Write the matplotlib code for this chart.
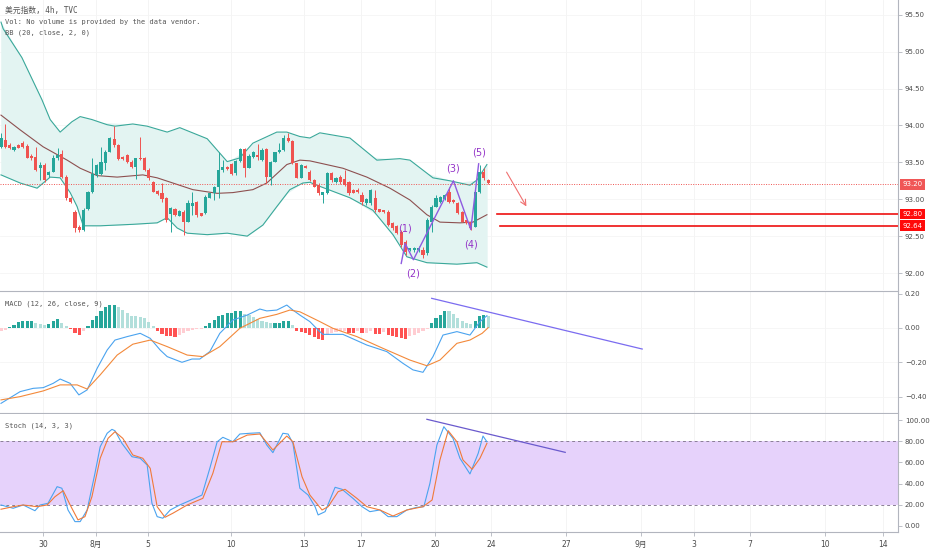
import numpy as np
import matplotlib
matplotlib.use("Agg")
import matplotlib.pyplot as plt
from matplotlib.ticker import FuncFormatter

plt.rcParams['font.family'] = ['DejaVu Sans', 'Noto Sans CJK SC']

# 4h candles, x = bar index
opens = [93.713, 93.804, 93.736, 93.668, 93.736, 93.759, 93.727, 93.587, 93.578, 93.419,
         93.465, 93.329, 93.374, 93.555, 93.609, 93.306, 93.021, 92.831, 92.628, 92.583,
         92.868, 93.094, 93.329, 93.338, 93.487, 93.645, 93.817, 93.736, 93.578, 93.600,
         93.510, 93.442, 93.564, 93.564, 93.397, 93.238, 93.112, 93.080, 93.012, 92.795,
         92.863, 92.777, 92.831, 92.696, 92.913, 92.958, 92.809, 92.809, 93.021, 93.080,
         93.171, 93.397, 93.442, 93.474, 93.351, 93.519, 93.682, 93.428, 93.578, 93.600,
         93.532, 93.677, 93.306, 93.510, 93.636, 93.668, 93.835, 93.790, 93.487, 93.293,
         93.456, 93.374, 93.261, 93.193, 93.058, 93.080, 93.352, 93.239, 93.306, 93.270,
         93.239, 93.126, 93.126, 93.058, 92.945, 92.945, 93.013, 92.863, 92.854, 92.832,
         92.673, 92.637, 92.560, 92.425, 92.312, 92.312, 92.312, 92.312, 92.266, 92.696,
         92.899, 92.967, 92.999, 93.103, 92.990, 92.945, 92.832, 92.718, 92.696, 92.628,
         93.103, 93.374, 93.261]
highs = [93.894, 94.016, 93.759, 93.727, 93.745, 93.790, 93.745, 93.609, 93.713, 93.510,
         93.487, 93.383, 93.600, 93.691, 93.668, 93.329, 93.035, 92.854, 92.650, 92.877,
         93.112, 93.555, 93.474, 93.713, 93.668, 93.849, 93.998, 93.745, 93.591, 93.609,
         93.532, 93.564, 93.849, 93.578, 93.419, 93.247, 93.125, 93.216, 93.035, 92.899,
         92.877, 92.850, 92.854, 92.990, 93.094, 92.976, 92.820, 93.058, 93.090, 93.184,
         93.636, 93.532, 93.456, 93.487, 93.532, 93.691, 93.691, 93.609, 93.655, 93.745,
         93.691, 93.691, 93.519, 93.645, 93.759, 93.872, 93.894, 93.800, 93.497, 93.474,
         93.465, 93.397, 93.270, 93.216, 93.103, 93.365, 93.374, 93.295, 93.330, 93.397,
         93.252, 93.135, 93.148, 93.103, 93.013, 93.135, 93.126, 92.870, 92.860, 92.854,
         92.696, 92.645, 92.583, 92.447, 92.345, 92.350, 92.366, 92.357, 92.741, 92.922,
         93.058, 93.048, 93.070, 93.171, 93.000, 92.967, 92.845, 92.725, 92.718, 93.126,
         93.465, 93.420, 93.270]
lows = [93.691, 93.691, 93.677, 93.655, 93.691, 93.691, 93.555, 93.532, 93.383, 93.261,
        93.238, 93.306, 93.365, 93.532, 93.284, 92.990, 92.944, 92.560, 92.551, 92.569,
        92.854, 93.080, 93.306, 93.329, 93.397, 93.636, 93.713, 93.532, 93.532, 93.487,
        93.428, 93.275, 93.532, 93.383, 93.261, 93.094, 93.058, 92.958, 92.696, 92.560,
        92.777, 92.768, 92.515, 92.687, 92.786, 92.763, 92.768, 92.795, 93.012, 92.990,
        93.012, 93.374, 93.400, 93.329, 93.329, 93.510, 93.306, 93.419, 93.555, 93.532,
        93.519, 93.216, 93.193, 93.501, 93.623, 93.655, 93.781, 93.478, 93.284, 93.284,
        93.419, 93.247, 93.160, 93.058, 92.944, 93.070, 93.239, 93.225, 93.207, 93.180,
        93.058, 93.080, 93.080, 92.922, 92.922, 92.922, 92.832, 92.825, 92.820, 92.637,
        92.583, 92.530, 92.357, 92.243, 92.300, 92.290, 92.289, 92.198, 92.243, 92.560,
        92.890, 92.955, 92.990, 92.945, 92.955, 92.800, 92.685, 92.660, 92.583, 92.619,
        93.080, 93.261, 93.210]
closes = [93.826, 93.713, 93.691, 93.713, 93.700, 93.704, 93.564, 93.564, 93.397, 93.465,
          93.261, 93.374, 93.564, 93.600, 93.306, 93.012, 92.958, 92.605, 92.583, 92.854,
          93.103, 93.338, 93.465, 93.510, 93.645, 93.826, 93.736, 93.546, 93.541, 93.501,
          93.433, 93.555, 93.546, 93.397, 93.284, 93.103, 93.067, 93.003, 92.718, 92.877,
          92.786, 92.840, 92.696, 92.944, 92.944, 92.786, 92.777, 93.035, 93.080, 93.171,
          93.397, 93.442, 93.410, 93.338, 93.519, 93.682, 93.428, 93.591, 93.645, 93.578,
          93.668, 93.306, 93.510, 93.636, 93.668, 93.835, 93.790, 93.487, 93.293, 93.465,
          93.428, 93.261, 93.171, 93.080, 93.094, 93.351, 93.261, 93.284, 93.239, 93.193,
          93.080, 93.089, 93.098, 92.967, 92.999, 93.126, 92.854, 92.832, 92.832, 92.651,
          92.605, 92.538, 92.379, 92.289, 92.334, 92.334, 92.334, 92.243, 92.718, 92.899,
          93.013, 93.035, 93.058, 92.967, 92.967, 92.809, 92.696, 92.673, 92.605, 93.103,
          93.374, 93.284, 93.216]

# Bollinger bands (bar position, price)
bb_up_x = [0.0, 0.5, 4.8, 9.4, 11.3, 13.6, 16.3, 18.2, 20.9, 24.4, 26.2, 30.3, 33.6, 38.2,
           41.1, 47.4, 52.0, 54.9, 57.9, 63.4, 65.7, 68.7, 71.0, 73.3, 80.2, 86.4, 91.7,
           94.0, 99.3, 103.2, 107.8, 109.4, 111.7]
bb_up = [95.40, 95.31, 94.92, 94.35, 94.08, 93.91, 94.05, 94.12, 94.08, 94.01, 93.99, 94.02,
         93.99, 93.91, 93.97, 93.82, 93.51, 93.56, 93.76, 93.91, 93.91, 93.85, 93.83, 93.90,
         93.83, 93.53, 93.55, 93.53, 93.29, 93.25, 93.19, 93.26, 93.47]
bb_mid_x = [0.0, 4.4, 9.7, 15.2, 18.2, 22.1, 26.7, 32.6, 35.9, 39.5, 44.1, 49.7, 53.3, 57.9,
            61.1, 65.7, 68.7, 71.0, 73.3, 78.6, 84.1, 89.4, 94.0, 97.9, 100.9, 105.5, 108.5,
            111.7]
bb_mid = [94.14, 93.94, 93.71, 93.53, 93.42, 93.32, 93.30, 93.33, 93.29, 93.22, 93.13, 93.08,
          93.09, 93.13, 93.22, 93.47, 93.53, 93.52, 93.49, 93.42, 93.30, 93.15, 92.99, 92.79,
          92.69, 92.68, 92.69, 92.79]
bb_low_x = [0.0, 4.4, 8.3, 11.3, 13.6, 15.9, 17.5, 18.9, 22.8, 30.3, 35.9, 38.2, 40.5, 42.8,
            47.4, 52.0, 56.6, 60.2, 63.4, 66.4, 69.4, 71.0, 72.6, 80.2, 85.5, 90.1, 93.3,
            97.9, 104.8, 109.4, 111.7]
bb_low = [93.33, 93.22, 93.15, 93.30, 93.29, 93.09, 92.90, 92.64, 92.64, 92.66, 92.68, 92.75,
          92.61, 92.54, 92.52, 92.54, 92.50, 92.65, 92.90, 93.13, 93.22, 93.23, 93.19, 93.02,
          92.85, 92.52, 92.22, 92.14, 92.12, 92.14, 92.08]

# Elliott wave drawing
wave_x = [92.0, 92.9, 94.8, 104.0, 108.0, 109.8]
wave_y = [92.13, 92.40, 92.18, 93.25, 92.59, 93.48]
wave_labels = ['(1)', '(2)', '(3)', '(4)', '(5)']
wave_label_x = [92.9, 94.7, 104.0, 108.1, 109.9]
wave_label_y = [92.61, 91.99, 93.41, 92.39, 93.64]

last_price = 93.20
levels = [92.80, 92.64]
level_start = [114.0, 114.7]
arrow_from = (115.9, 93.40)
arrow_to = (121.1, 92.87)

# MACD
macd_hist = [-0.015, -0.010, 0.006, 0.019, 0.033, 0.039, 0.040, 0.041, 0.029, 0.023,
             0.019, 0.023, 0.039, 0.052, 0.029, 0.010, -0.004, -0.029, -0.043, -0.019,
             0.010, 0.048, 0.068, 0.097, 0.120, 0.131, 0.135, 0.120, 0.106, 0.087,
             0.071, 0.068, 0.064, 0.058, 0.035, 0.010, -0.015, -0.035, -0.048, -0.049,
             -0.050, -0.039, -0.029, -0.019, -0.010, -0.006, -0.004, 0.010, 0.029, 0.048,
             0.068, 0.077, 0.087, 0.088, 0.097, 0.100, 0.081, 0.073, 0.062, 0.054,
             0.043, 0.035, 0.029, 0.030, 0.031, 0.039, 0.040, 0.015, -0.019, -0.023,
             -0.029, -0.039, -0.054, -0.062, -0.068, -0.039, -0.029, -0.023, -0.019, -0.018,
             -0.029, -0.030, -0.019, -0.029, -0.028, -0.019, -0.035, -0.036, -0.025, -0.039,
             -0.048, -0.054, -0.058, -0.064, -0.048, -0.039, -0.029, -0.019, -0.004, 0.029,
             0.058, 0.077, 0.097, 0.096, 0.081, 0.058, 0.043, 0.029, 0.023, 0.043,
             0.068, 0.077, 0.068]
macd_x = [0.0, 4.4, 7.4, 9.7, 12.0, 13.6, 15.9, 17.9, 19.8, 22.1, 24.4, 26.2, 29.0, 32.0,
          34.3, 36.6, 38.2, 41.6, 43.9, 45.7, 48.0, 50.3, 53.3, 56.6, 59.5, 61.1, 63.4, 65.7,
          67.1, 68.7, 71.0, 72.9, 74.0, 78.6, 84.1, 88.7, 92.4, 94.7, 97.0, 99.3, 101.6,
          104.8, 107.8, 110.1, 111.7]
macd_line = [-0.437, -0.369, -0.350, -0.346, -0.321, -0.296, -0.321, -0.388, -0.359, -0.234,
             -0.128, -0.070, -0.050, -0.031, -0.060, -0.128, -0.166, -0.199, -0.180, -0.180,
             -0.137, -0.031, 0.046, 0.075, 0.110, 0.099, 0.104, 0.133, 0.104, 0.075,
             0.037, -0.012, -0.037, -0.037, -0.099, -0.137, -0.205, -0.243, -0.257, -0.166,
             -0.041, -0.021, -0.041, 0.037, 0.071]
signal_x = [0.0, 4.4, 9.7, 13.6, 17.5, 19.8, 22.8, 26.7, 30.3, 34.3, 38.2, 42.8, 46.4, 50.3,
            54.9, 59.5, 63.4, 66.4, 68.7, 73.3, 76.3, 81.8, 87.8, 94.0, 97.9, 100.9, 104.8,
            107.8, 110.6, 112.0]
signal_line = [-0.417, -0.398, -0.365, -0.330, -0.330, -0.354, -0.272, -0.157, -0.094, -0.070,
               -0.108, -0.157, -0.166, -0.108, -0.002, 0.056, 0.079, 0.104, 0.094, 0.037,
               -0.002, -0.050, -0.118, -0.186, -0.219, -0.186, -0.089, -0.070, -0.031, 0.002]
macd_trend_x = [99.0, 147.4]
macd_trend_y = [0.172, -0.122]

# Stochastic
k_x = [0.0, 2.8, 5.1, 7.8, 9.0, 10.8, 12.9, 14.0, 15.4, 17.0, 18.2, 19.8, 21.6, 22.8, 24.4,
       25.5, 26.2, 27.8, 30.1, 32.0, 33.6, 34.7, 35.9, 37.2, 38.9, 41.1, 44.1, 46.2, 48.0,
       49.7, 51.0, 53.3, 54.9, 57.2, 59.5, 61.1, 62.5, 64.8, 66.0, 67.1, 68.7, 70.6, 72.2,
       72.9, 74.5, 76.8, 78.4, 80.9, 83.0, 84.8, 87.1, 89.0, 91.0, 93.3, 95.6, 97.2, 98.6,
       100.2, 101.8, 103.9, 105.5, 107.8, 109.7, 110.8, 111.7]
k_line = [19.8, 16.7, 19.8, 14.4, 19.8, 21.4, 37.1, 35.6, 15.1, 4.1, 4.1, 15.1, 49.7, 74.8,
          87.5, 91.2, 89.9, 78.0, 65.4, 63.9, 57.5, 21.4, 8.8, 7.3, 15.1, 19.8, 25.2, 29.2,
          54.4, 79.5, 83.7, 79.5, 86.8, 87.5, 88.0, 76.4, 69.2, 87.5, 86.8, 78.0, 35.6, 29.2,
          18.2, 10.4, 13.5, 36.5, 34.6, 26.1, 18.2, 13.5, 15.1, 8.8, 8.8, 15.1, 17.6, 18.2,
          40.3, 76.4, 93.7, 82.7, 63.9, 49.1, 68.6, 84.9, 79.5]
d_x = [0.0, 2.8, 5.1, 8.3, 10.6, 12.4, 14.3, 15.9, 17.7, 19.3, 20.9, 22.8, 24.6, 26.2, 28.0,
       30.3, 32.6, 34.3, 35.9, 37.7, 39.5, 42.8, 46.4, 48.7, 50.8, 53.3, 56.6, 59.5, 62.5,
       65.7, 67.1, 69.2, 71.0, 73.8, 75.2, 77.5, 79.1, 81.8, 84.1, 87.1, 90.1, 93.3, 97.0,
       99.1, 100.9, 102.8, 104.8, 106.2, 108.3, 110.1, 111.7]
d_line = [15.8, 18.2, 19.8, 18.2, 19.8, 27.6, 33.3, 19.8, 5.7, 8.8, 27.6, 63.9, 82.7, 89.0,
          82.7, 67.0, 63.9, 54.4, 18.2, 8.2, 12.0, 19.8, 26.1, 49.7, 79.5, 79.5, 85.8, 86.8,
          71.7, 84.9, 79.5, 46.5, 29.2, 15.1, 18.2, 32.4, 34.6, 26.1, 18.2, 15.1, 9.4, 15.1,
          18.2, 24.5, 62.3, 89.9, 79.5, 62.3, 53.5, 63.9, 78.0]
stoch_trend_x = [97.9, 129.7]
stoch_trend_y = [100.7, 69.5]

# date axis
date_ticks = [9.66, 21.84, 33.79, 52.87, 69.66, 82.76, 99.77, 112.64, 129.89, 147.13,
              159.31, 172.18, 189.43, 202.76]
date_labels = ['30', '8月', '5', '10', '13', '17', '20', '24', '27', '9月', '3', '7', '10', '14']

UP = '#26a69a'
DOWN = '#ef5350'
AXIS = '#b2b5be'
TXT = '#4a4a4a'
MONO = ['DejaVu Sans Mono', 'Noto Sans CJK SC']
minus = FuncFormatter(lambda v, p: ('%.2f' % v).replace('-', '\u2212'))

fig = plt.figure(figsize=(9.32, 5.5), dpi=100)
right = 898 / 932
ax = fig.add_axes([0, 1 - 290 / 550, right, 290 / 550])
ax_m = fig.add_axes([0, 1 - 413 / 550, right, 122 / 550], sharex=ax)
ax_s = fig.add_axes([0, 1 - 532 / 550, right, 118 / 550], sharex=ax)

for a in (ax, ax_m, ax_s):
    a.set_facecolor('white')
    for s in ('left', 'top', 'bottom'):
        a.spines[s].set_visible(False)
    a.spines['right'].set_color(AXIS)
    a.yaxis.tick_right()
    a.tick_params(axis='y', length=3, width=0.6, color=AXIS, labelsize=5,
                  labelcolor=TXT, pad=2)
    a.tick_params(axis='x', length=0, labelbottom=False)
    for t in date_ticks:
        a.axvline(t, color='#f3f3f3', lw=0.6, zorder=0)
ax_m.spines['top'].set_visible(True)
ax_m.spines['top'].set_color(AXIS)
ax_m.spines['bottom'].set_visible(True)
ax_m.spines['bottom'].set_color(AXIS)
ax_s.spines['bottom'].set_visible(True)
ax_s.spines['bottom'].set_color(AXIS)

ax.set_xlim(-0.23, 206.2)

# --- price panel ---
o = np.array(opens)
h = np.array(highs)
l = np.array(lows)
c = np.array(closes)
idx = np.arange(len(o))
cols = np.where(c >= o, UP, DOWN)
for y in np.arange(92.0, 95.51, 0.5):
    ax.axhline(y, color='#f5f5f5', lw=0.6, zorder=0)
ax.fill_between(bb_up_x, np.interp(bb_up_x, bb_low_x, bb_low), bb_up,
                color='#e3f4f2', lw=0, zorder=1)
ax.fill_between(bb_low_x, bb_low, np.interp(bb_low_x, bb_up_x, bb_up),
                color='#e3f4f2', lw=0, zorder=1)
ax.plot(bb_up_x, bb_up, color='#3aa89a', lw=0.8, zorder=2)
ax.plot(bb_low_x, bb_low, color='#3aa89a', lw=0.8, zorder=2)
ax.plot(bb_mid_x, bb_mid, color='#8d5050', lw=0.8, zorder=2)
ax.vlines(idx, l, h, colors=cols, lw=0.7, zorder=3)
body = np.maximum(np.abs(c - o), 0.008)
ax.bar(idx, body, bottom=np.minimum(o, c), width=0.72, color=cols, lw=0, zorder=4)

ax.axhline(last_price, color=DOWN, lw=0.7, ls=(0, (1, 1.5)), zorder=2)
for y, x0 in zip(levels, level_start):
    ax.plot([x0, 206.2], [y, y], color='#ee1111', lw=1.2, zorder=5)
ax.annotate('', xy=arrow_to, xytext=arrow_from,
            arrowprops=dict(arrowstyle='->', color='#f07070', lw=0.8))
ax.plot(wave_x, wave_y, color='#8e5be0', lw=1.0, zorder=6)
for t, x, y in zip(wave_labels, wave_label_x, wave_label_y):
    ax.text(x, y, t, color='#9434c8', fontsize=7, ha='center', va='center', zorder=7)

ax.set_ylim(91.77, 95.70)
ax.set_yticks(np.arange(92.0, 95.51, 0.5))
ax.yaxis.set_major_formatter(FuncFormatter(lambda v, p: '%.2f' % v))
for y, fc in [(last_price, '#f05656'), (levels[0], '#ff0a0a'), (levels[1], '#ff0a0a')]:
    ax.annotate('%.2f' % y, xy=(1.0, y), xycoords=('axes fraction', 'data'),
                xytext=(3, 0), textcoords='offset points', fontsize=5, color='white',
                va='center', ha='left', annotation_clip=False,
                bbox=dict(boxstyle='square,pad=0.35', fc=fc, ec='none'))

fig.text(5 / 932, 1 - 10 / 550, '美元指数, 4h, TVC', family=MONO, fontsize=5.6,
         color='#555555', va='center')
fig.text(5 / 932, 1 - 22 / 550, 'Vol: No volume is provided by the data vendor.',
         family=MONO, fontsize=5, color='#555555', va='center')
fig.text(5 / 932, 1 - 33 / 550, 'BB (20, close, 2, 0)', family=MONO, fontsize=5,
         color='#555555', va='center')

# --- MACD panel ---
hist = np.array(macd_hist)
prev = np.concatenate([[hist[0]], hist[:-1]])
hcols = np.where(hist >= 0,
                 np.where(hist > prev, '#26a69a', '#b2dfdb'),
                 np.where(hist < prev, '#ff5252', '#ffcdd2'))
ax_m.bar(np.arange(len(hist)), hist, width=0.72, color=hcols, lw=0, zorder=2)
ax_m.plot(macd_x, macd_line, color='#4aa3ef', lw=0.8, zorder=3)
ax_m.plot(signal_x, signal_line, color='#f3893a', lw=0.8, zorder=3)
ax_m.plot(macd_trend_x, macd_trend_y, color='#7b6cf0', lw=0.9, zorder=4)
ax_m.set_ylim(-0.493, 0.2145)
ax_m.set_yticks([0.2, 0.0, -0.2, -0.4])
ax_m.yaxis.set_major_formatter(minus)
for y in [0.0, -0.2, -0.4]:
    ax_m.axhline(y, color='#f5f5f5', lw=0.6, zorder=0)
fig.text(5 / 932, 1 - 304 / 550, 'MACD (12, 26, close, 9)', family=MONO, fontsize=5,
         color='#555555', va='center')

# --- Stoch panel ---
ax_s.axhspan(20, 80, color='#e6d2fb', lw=0, zorder=1)
for y in (20, 80):
    ax_s.axhline(y, color='#8a7f95', lw=0.7, ls=(0, (3, 3)), zorder=2)
ax_s.plot(k_x, k_line, color='#4aa3ef', lw=0.8, zorder=3)
ax_s.plot(d_x, d_line, color='#f07a3a', lw=0.8, zorder=3)
ax_s.plot(stoch_trend_x, stoch_trend_y, color='#6a5acd', lw=0.9, zorder=4)
ax_s.set_ylim(-5.7, 105.7)
ax_s.set_yticks([100, 80, 60, 40, 20, 0])
ax_s.yaxis.set_major_formatter(FuncFormatter(lambda v, p: '%.2f' % v))
fig.text(5 / 932, 1 - 426 / 550, 'Stoch (14, 3, 3)', family=MONO, fontsize=5,
         color='#555555', va='center')

ax_s.set_xticks(date_ticks)
ax_s.set_xticklabels(date_labels)
ax_s.tick_params(axis='x', length=3, width=0.6, color=AXIS, labelsize=5.5,
                 labelcolor=TXT, labelbottom=True, pad=3)

fig.savefig('out.png', dpi=100, facecolor='white')
